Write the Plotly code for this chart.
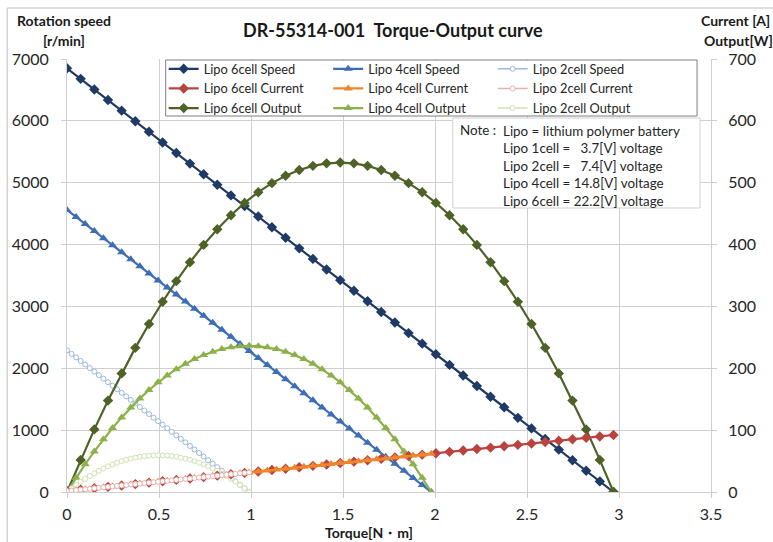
import plotly.graph_objects as go

# ---------------- data ----------------
torque_6 = [0, 0.07425, 0.1485, 0.22275, 0.297, 0.37125, 0.4455, 0.51975, 0.594, 0.66825,
            0.7425, 0.81675, 0.891, 0.96525, 1.0395, 1.11375, 1.188, 1.26225, 1.3365, 1.41075,
            1.485, 1.55925, 1.6335, 1.70775, 1.782, 1.85625, 1.9305, 2.00475, 2.079, 2.15325,
            2.2275, 2.30175, 2.376, 2.45025, 2.5245, 2.59875, 2.673, 2.74725, 2.8215, 2.89575, 2.97]
speed_6 = [6850, 6679, 6508, 6336, 6165, 5994, 5823, 5651, 5480, 5309,
           5138, 4966, 4795, 4624, 4453, 4281, 4110, 3939, 3768, 3596,
           3425, 3254, 3083, 2911, 2740, 2569, 2398, 2226, 2055, 1884,
           1713, 1541, 1370, 1199, 1028, 856, 685, 514, 343, 171, 0]
current_6 = [1.5, 3.8, 6.0, 8.3, 10.6, 12.8, 15.1, 17.4, 19.6, 21.9,
             24.1, 26.4, 28.7, 30.9, 33.2, 35.5, 37.7, 40.0, 42.3, 44.5,
             46.8, 49.1, 51.3, 53.6, 55.9, 58.1, 60.4, 62.6, 64.9, 67.2,
             69.4, 71.7, 74.0, 76.2, 78.5, 80.8, 83.0, 85.3, 87.6, 89.8, 92.1]
output_6 = [0, 51.9, 101.2, 147.8, 191.7, 233.0, 271.6, 307.6, 340.9, 371.5,
            399.5, 424.8, 447.4, 467.4, 484.7, 499.3, 511.3, 520.6, 527.3, 531.3,
            532.6, 531.3, 527.3, 520.6, 511.3, 499.3, 484.7, 467.4, 447.4, 424.8,
            399.5, 371.5, 340.9, 307.6, 271.6, 233.0, 191.7, 147.8, 101.2, 51.9, 0]

torque_4 = [0, 0.0495, 0.099, 0.1485, 0.198, 0.2475, 0.297, 0.3465, 0.396, 0.4455,
            0.495, 0.5445, 0.594, 0.6435, 0.693, 0.7425, 0.792, 0.8415, 0.891, 0.9405,
            0.99, 1.0395, 1.089, 1.1385, 1.188, 1.2375, 1.287, 1.3365, 1.386, 1.4355,
            1.485, 1.5345, 1.584, 1.6335, 1.683, 1.7325, 1.782, 1.8315, 1.881, 1.9305, 1.98]
speed_4 = [4560, 4446, 4332, 4218, 4104, 3990, 3876, 3762, 3648, 3534,
           3420, 3306, 3192, 3078, 2964, 2850, 2736, 2622, 2508, 2394,
           2280, 2166, 2052, 1938, 1824, 1710, 1596, 1482, 1368, 1254,
           1140, 1026, 912, 798, 684, 570, 456, 342, 228, 114, 0]
current_4 = [1.5, 3.0, 4.5, 6.0, 7.5, 9.0, 10.6, 12.1, 13.6, 15.1,
             16.6, 18.1, 19.6, 21.1, 22.6, 24.1, 25.7, 27.2, 28.7, 30.2,
             31.7, 33.2, 34.7, 36.2, 37.7, 39.2, 40.8, 42.3, 43.8, 45.3,
             46.8, 48.3, 49.8, 51.3, 52.8, 54.3, 55.9, 57.4, 58.9, 60.4, 61.9]
output_4 = [0, 23.0, 44.9, 65.6, 85.1, 103.4, 120.6, 136.5, 151.3, 164.9,
            177.3, 188.5, 198.6, 207.4, 215.1, 221.6, 226.9, 231.1, 234.0, 235.8,
            236.4, 235.8, 234.0, 231.1, 226.9, 221.6, 215.1, 207.4, 198.6, 188.5,
            177.3, 164.9, 151.3, 136.5, 120.6, 103.4, 85.1, 65.6, 44.9, 23.0, 0]

torque_2 = [0, 0.02475, 0.0495, 0.07425, 0.099, 0.12375, 0.1485, 0.17325, 0.198, 0.22275,
            0.2475, 0.27225, 0.297, 0.32175, 0.3465, 0.37125, 0.396, 0.42075, 0.4455, 0.47025,
            0.495, 0.51975, 0.5445, 0.56925, 0.594, 0.61875, 0.6435, 0.66825, 0.693, 0.71775,
            0.7425, 0.76725, 0.792, 0.81675, 0.8415, 0.86625, 0.891, 0.91575, 0.9405, 0.96525, 0.99]
speed_2 = [2290, 2233, 2176, 2118, 2061, 2004, 1947, 1889, 1832, 1775,
           1718, 1660, 1603, 1546, 1489, 1431, 1374, 1317, 1260, 1202,
           1145, 1088, 1031, 973, 916, 859, 802, 744, 687, 630,
           573, 515, 458, 401, 344, 286, 229, 172, 115, 57, 0]
current_2 = [1.5, 2.3, 3.0, 3.8, 4.5, 5.3, 6.0, 6.8, 7.5, 8.3,
             9.0, 9.8, 10.6, 11.3, 12.1, 12.8, 13.6, 14.3, 15.1, 15.8,
             16.6, 17.4, 18.1, 18.9, 19.6, 20.4, 21.1, 21.9, 22.6, 23.4,
             24.1, 24.9, 25.7, 26.4, 27.2, 27.9, 28.7, 29.4, 30.2, 30.9, 31.7]
output_2 = [0, 5.8, 11.3, 16.5, 21.4, 26.0, 30.3, 34.3, 38.0, 41.4,
            44.5, 47.3, 49.9, 52.1, 54.0, 55.6, 57.0, 58.0, 58.8, 59.2,
            59.4, 59.2, 58.8, 58.0, 57.0, 55.6, 54.0, 52.1, 49.9, 47.3,
            44.5, 41.4, 38.0, 34.3, 30.3, 26.0, 21.4, 16.5, 11.3, 5.8, 0]

title_text = "DR-55314-001  Torque-Output curve"
note_lines = ["Lipo = lithium polymer battery",
              "Lipo 1cell =\u00a0\u00a0\u00a03.7[V] voltage",
              "Lipo 2cell =\u00a0\u00a0\u00a07.4[V] voltage",
              "Lipo 4cell = 14.8[V] voltage",
              "Lipo 6cell = 22.2[V] voltage"]

# ---------------- layout geometry ----------------
W, H = 773, 542
PL, PR, PT, PB = 65, 711, 59, 492


def fx(px):
    return (px - PL) / (PR - PL)


def fy(py):
    return (PB - py) / (PB - PT)


FONT = "Lato, Carlito, Calibri, sans-serif"
TXT = "#262626"

fig = go.Figure()


def add(x, y, name, color, symbol, size, width, axis, legend, rank, open_marker=False):
    if open_marker:
        marker = dict(symbol=symbol, size=size, color="white",
                      line=dict(color=color, width=1))
    else:
        marker = dict(symbol=symbol, size=size, color=color,
                      line=dict(color=color, width=0))
    fig.add_trace(go.Scatter(x=x, y=y, name=name, mode="lines+markers",
                             line=dict(color=color, width=width),
                             marker=marker, yaxis=axis, legend=legend,
                             legendrank=rank))


c6s, c4s, c2s = "#1F3A64", "#3D6DB5", "#9DB9DE"
c6c, c4c, c2c = "#B8433F", "#F0862B", "#E8AFAF"
c6o, c4o, c2o = "#4E6227", "#8CB04A", "#D0E2B4"

add(torque_6, speed_6, "Lipo 6cell Speed", c6s, "diamond", 8, 2.2, "y", "legend", 1)
add(torque_4, speed_4, "Lipo 4cell Speed", c4s, "triangle-up", 8, 2.2, "y", "legend2", 1)
add(torque_2, speed_2, "Lipo 2cell Speed", c2s, "circle", 5, 1.5, "y", "legend3", 1, True)
add(torque_6, output_6, "Lipo 6cell Output", c6o, "diamond", 8, 2.2, "y2", "legend", 3)
add(torque_4, output_4, "Lipo 4cell Output", c4o, "triangle-up", 8, 2.2, "y2", "legend2", 3)
add(torque_2, output_2, "Lipo 2cell Output", c2o, "circle", 5, 1.5, "y2", "legend3", 3, True)
add(torque_6, current_6, "Lipo 6cell Current", c6c, "diamond", 8, 2.2, "y2", "legend", 2)
add(torque_4, current_4, "Lipo 4cell Current", c4c, "triangle-up", 8, 2.2, "y2", "legend2", 2)
add(torque_2, current_2, "Lipo 2cell Current", c2c, "circle", 5, 1.5, "y2", "legend3", 2, True)

GRID = "#CFCFCF"
axis_common = dict(showgrid=True, gridcolor=GRID, gridwidth=1, showline=True,
                   linecolor=GRID, linewidth=1, ticks="outside", ticklen=5,
                   tickcolor=GRID, zeroline=False,
                   tickfont=dict(family=FONT, size=16, color=TXT))

leg_common = dict(orientation="v", bgcolor="rgba(0,0,0,0)", borderwidth=0,
                  font=dict(family=FONT, size=12.8, color=TXT),
                  xanchor="left", yanchor="top", traceorder="normal",
                  tracegroupgap=0, itemwidth=30)

fig.update_layout(
    width=W, height=H,
    margin=dict(l=PL, r=W - PR, t=PT, b=H - PB, pad=0),
    paper_bgcolor="white", plot_bgcolor="white",
    font=dict(family=FONT, color=TXT),
    showlegend=True,
    xaxis=dict(range=[0, 3.5], dtick=0.5, tick0=0, ticklabelstandoff=3, **axis_common),
    yaxis=dict(range=[0, 7000], dtick=1000, tick0=0, ticklabelstandoff=9, **axis_common),
    yaxis2=dict(range=[0, 700], dtick=100, tick0=0, overlaying="y", side="right",
                showgrid=False, showline=True, linecolor=GRID, linewidth=1,
                ticks="outside", ticklen=5, tickcolor=GRID, zeroline=False,
                ticklabelstandoff=8,
                tickfont=dict(family=FONT, size=16, color=TXT)),
    legend=dict(x=fx(162), y=fy(54), **leg_common),
    legend2=dict(x=fx(327), y=fy(54), **leg_common),
    legend3=dict(x=fx(492), y=fy(54), **leg_common),
)

# chart border, legend box, note box
fig.add_shape(type="rect", xref="paper", yref="paper",
              x0=fx(5), x1=fx(790), y0=fy(560), y1=fy(8),
              line=dict(color="#BFBFBF", width=1), fillcolor="rgba(0,0,0,0)", layer="below")
fig.add_shape(type="rect", xref="paper", yref="paper",
              x0=fx(164), x1=fx(697), y0=fy(116), y1=fy(60),
              line=dict(color="#7F7F7F", width=1), fillcolor="white", layer="above")
fig.add_shape(type="rect", xref="paper", yref="paper",
              x0=fx(452), x1=fx(700), y0=fy(208), y1=fy(118),
              line=dict(color="#D0D0D0", width=1), fillcolor="white", layer="above")

ann_font = dict(family=FONT, size=13.4, color=TXT)
fig.add_annotation(xref="paper", yref="paper", x=fx(457), y=fy(130), text="Note :",
                   showarrow=False, xanchor="left", yanchor="middle", font=ann_font)
fig.add_annotation(xref="paper", yref="paper", x=fx(500), y=fy(121),
                   text="<br>".join(note_lines), showarrow=False, align="left",
                   xanchor="left", yanchor="top", font=ann_font)

bold14 = dict(family=FONT, size=14, color="#1A1A1A", weight="bold")
fig.add_annotation(xref="paper", yref="paper", x=fx(392), y=fy(30), text=title_text,
                   showarrow=False, xanchor="center", yanchor="middle",
                   font=dict(family=FONT, size=18, color="#1A1A1A", weight="bold"))
fig.add_annotation(xref="paper", yref="paper", x=fx(62), y=fy(20), text="Rotation speed",
                   showarrow=False, xanchor="center", yanchor="middle", font=bold14)
fig.add_annotation(xref="paper", yref="paper", x=fx(62), y=fy(41), text="[r/min]",
                   showarrow=False, xanchor="center", yanchor="middle", font=bold14)
fig.add_annotation(xref="paper", yref="paper", x=fx(699), y=fy(20), text="Current [A]",
                   showarrow=False, xanchor="left", yanchor="middle", font=bold14)
fig.add_annotation(xref="paper", yref="paper", x=fx(702), y=fy(41), text="Output[W]",
                   showarrow=False, xanchor="left", yanchor="middle", font=bold14)
fig.add_annotation(xref="paper", yref="paper", x=fx(368), y=fy(532), text="Torque[N・m]",
                   showarrow=False, xanchor="center", yanchor="middle", font=bold14)

fig.write_html("out.html", config={"displayModeBar": False},
               post_script="document.body.style.margin='0';document.body.style.overflow='hidden';")
